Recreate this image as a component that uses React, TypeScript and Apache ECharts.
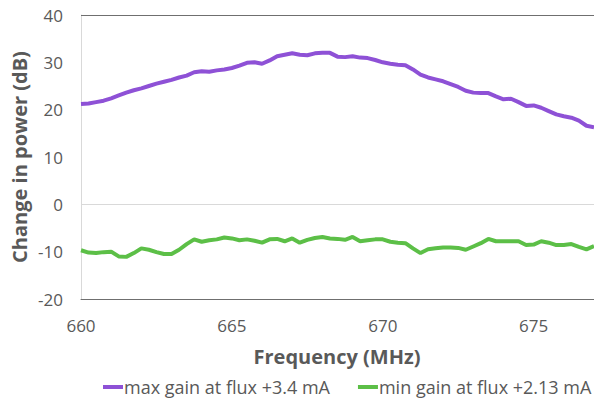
import React, { useEffect, useRef } from "react";
import * as echarts from "echarts";

// Frequency samples (MHz)
const frequencies: number[] = [
  660.0, 660.25, 660.5, 660.75, 661.0, 661.25, 661.5, 661.75, 662.0, 662.25,
  662.5, 662.75, 663.0, 663.25, 663.5, 663.75, 664.0, 664.25, 664.5, 664.75,
  665.0, 665.25, 665.5, 665.75, 666.0, 666.25, 666.5, 666.75, 667.0, 667.25,
  667.5, 667.75, 668.0, 668.25, 668.5, 668.75, 669.0, 669.25, 669.5, 669.75,
  670.0, 670.25, 670.5, 670.75, 671.0, 671.25, 671.5, 671.75, 672.0, 672.25,
  672.5, 672.75, 673.0, 673.25, 673.5, 673.75, 674.0, 674.25, 674.5, 674.75,
  675.0, 675.25, 675.5, 675.75, 676.0, 676.25, 676.5, 676.75, 677.0,
];

// Change in power (dB), max gain at flux +3.4 mA
const maxGain: number[] = [
  21.2, 21.3, 21.6, 21.9, 22.4, 23.0, 23.6, 24.1, 24.5, 25.0,
  25.5, 25.9, 26.3, 26.8, 27.2, 27.9, 28.1, 28.0, 28.3, 28.5,
  28.8, 29.3, 29.9, 30.0, 29.7, 30.4, 31.3, 31.6, 31.9, 31.6,
  31.5, 31.9, 32.0, 32.0, 31.2, 31.1, 31.3, 31.0, 30.9, 30.5,
  30.0, 29.7, 29.5, 29.4, 28.5, 27.4, 26.8, 26.4, 26.0, 25.4,
  24.8, 24.0, 23.6, 23.5, 23.5, 22.8, 22.2, 22.3, 21.6, 20.8,
  20.9, 20.4, 19.7, 19.0, 18.6, 18.3, 17.7, 16.6, 16.3,
];

// Change in power (dB), min gain at flux +2.13 mA
const minGain: number[] = [
  -9.7, -10.2, -10.3, -10.1, -10.0, -11.0, -11.1, -10.3, -9.3, -9.6,
  -10.1, -10.5, -10.5, -9.6, -8.4, -7.4, -7.9, -7.6, -7.4, -7.0,
  -7.2, -7.6, -7.4, -7.7, -8.1, -7.4, -7.3, -7.8, -7.2, -8.1,
  -7.5, -7.1, -6.9, -7.2, -7.3, -7.5, -6.9, -7.8, -7.6, -7.4,
  -7.4, -7.9, -8.1, -8.2, -9.3, -10.3, -9.5, -9.3, -9.1, -9.1,
  -9.2, -9.6, -8.9, -8.2, -7.3, -7.8, -7.8, -7.8, -7.8, -8.6,
  -8.5, -7.8, -8.1, -8.6, -8.6, -8.4, -9.0, -9.5, -8.8,
];

const seriesNames: string[] = ["max gain at flux +3.4 mA", "min gain at flux +2.13 mA"];
const xTitle = "Frequency (MHz)";
const yTitle = "Change in power (dB)";

const FONT = "'Open Sans', 'Noto Sans', sans-serif";
const TEXT = "#595959";

export default function App() {
  const ref = useRef<HTMLDivElement>(null);

  useEffect(() => {
    if (!ref.current) return;
    const chart = echarts.init(ref.current, undefined, { renderer: "svg" });

    const pairs = (vals: number[]) => frequencies.map((f, i) => [f, vals[i]]);

    chart.setOption({
      animation: false,
      grid: { left: 81, right: 0, top: 15, bottom: 102, containLabel: false },
      xAxis: {
        type: "value",
        min: 660,
        max: 677,
        interval: 5,
        axisLine: { show: true, onZero: false, lineStyle: { color: "#6f6f6f", width: 1 } },
        axisTick: { show: false },
        splitLine: { show: false },
        axisLabel: {
          color: TEXT,
          fontFamily: FONT,
          fontSize: 17,
          margin: 18,
          showMaxLabel: false,
        },
      },
      yAxis: {
        type: "value",
        min: -20,
        max: 40,
        interval: 10,
        axisLine: { show: true, lineStyle: { color: "#d9d9d9", width: 1 } },
        axisTick: { show: false },
        splitLine: { show: false },
        axisLabel: { color: TEXT, fontFamily: FONT, fontSize: 17, margin: 18 },
      },
      legend: {
        left: 103,
        top: 378,
        width: 491,
        padding: 0,
        icon: "rect",
        itemWidth: 20,
        itemHeight: 4,
        itemGap: 28,
        textStyle: { color: TEXT, fontFamily: FONT, fontSize: 18, padding: [0, 0, 0, -4] },
        data: seriesNames,
      },
      graphic: [
        {
          type: "text",
          x: 337,
          y: 356,
          style: {
            text: xTitle,
            fill: TEXT,
            font: `bold 20px ${FONT}`,
            align: "center",
            verticalAlign: "middle",
          },
        },
        {
          type: "text",
          x: 19,
          y: 157,
          rotation: Math.PI / 2,
          style: {
            text: yTitle,
            fill: TEXT,
            font: `bold 20px ${FONT}`,
            align: "center",
            verticalAlign: "middle",
          },
        },
      ],
      series: [
        {
          name: seriesNames[0],
          type: "line",
          data: pairs(maxGain),
          showSymbol: false,
          lineStyle: { color: "#8e51d6", width: 4 },
          itemStyle: { color: "#8e51d6" },
          markLine: {
            silent: true,
            symbol: "none",
            label: { show: false },
            data: [
              { yAxis: 40, lineStyle: { color: "#6f6f6f", width: 1, type: "solid" } },
              { yAxis: 0, lineStyle: { color: "#d9d9d9", width: 1, type: "solid" } },
            ],
          },
          z: 3,
        },
        {
          name: seriesNames[1],
          type: "line",
          data: pairs(minGain),
          showSymbol: false,
          lineStyle: { color: "#5cbf47", width: 4 },
          itemStyle: { color: "#5cbf47" },
          z: 3,
        },
      ],
    });

    return () => chart.dispose();
  }, []);

  return (
    <div
      ref={ref}
      style={{ position: "fixed", left: 0, top: 0, width: 594, height: 401, background: "#fff" }}
    />
  );
}
